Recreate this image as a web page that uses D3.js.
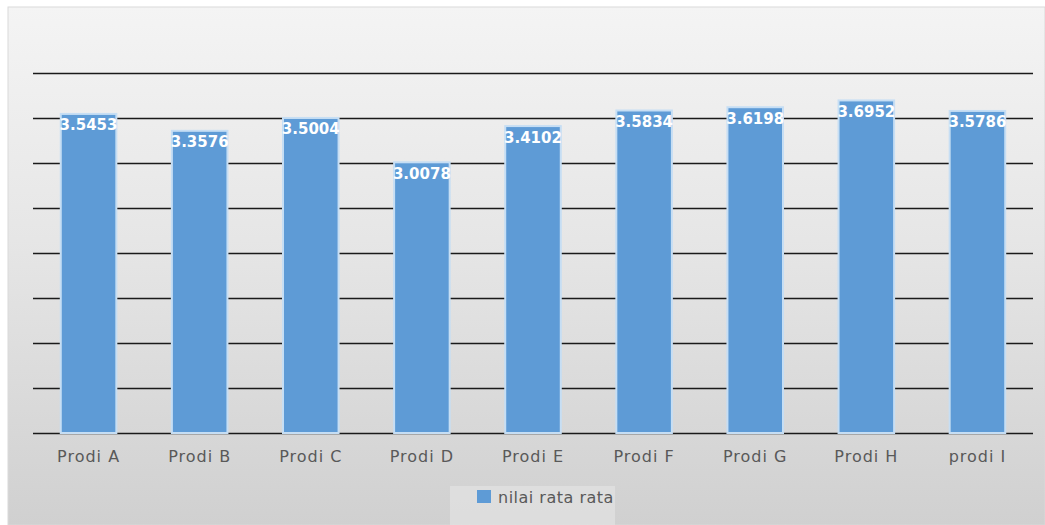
<!DOCTYPE html>
<html>
<head>
<meta charset="utf-8">
<script src="https://cdn.jsdelivr.net/npm/d3@7"></script>
<style>
  html, body { margin: 0; padding: 0; background: #ffffff; }
  svg { display: block; }
</style>
</head>
<body>
<svg id="chart" width="1045" height="525"></svg>
<script>
const categories = ["Prodi A", "Prodi B", "Prodi C", "Prodi D", "Prodi E", "Prodi F", "Prodi G", "Prodi H", "prodi I"];
const values = [3.5453, 3.3576, 3.5004, 3.0078, 3.4102, 3.5834, 3.6198, 3.6952, 3.5786];
const valueLabels = ["3.5453", "3.3576", "3.5004", "3.0078", "3.4102", "3.5834", "3.6198", "3.6952", "3.5786"];
const yTicks = [0, 0.5, 1, 1.5, 2, 2.5, 3, 3.5, 4];
const seriesName = "nilai rata rata";

const svg = d3.select("#chart");
const W = 1045, H = 525;

// background gradient
const defs = svg.append("defs");
const grad = defs.append("linearGradient").attr("id", "bg").attr("x1", 0).attr("y1", 0).attr("x2", 0).attr("y2", 1);
grad.append("stop").attr("offset", "0%").attr("stop-color", "#f4f4f4");
grad.append("stop").attr("offset", "45%").attr("stop-color", "#e6e6e6");
grad.append("stop").attr("offset", "100%").attr("stop-color", "#d0d0d0");

svg.append("rect").attr("x", 8).attr("y", 7).attr("width", W - 8).attr("height", H - 7)
  .attr("fill", "url(#bg)").attr("stroke", "#d9d9d9").attr("stroke-width", 1);

const x = d3.scaleBand().domain(categories).range([33, 1033]).paddingInner(0.5).paddingOuter(0.25);
const y = d3.scaleLinear().domain([0, 4]).range([433, 73]);

// gridlines
const yAxis = d3.axisLeft(y).tickValues(yTicks).tickSize(-1000).tickFormat("");
const gy = svg.append("g").attr("transform", "translate(33,0)").call(yAxis);
gy.select(".domain").remove();
gy.selectAll(".tick line").attr("stroke", "#1a1a1a").attr("stroke-width", 1.6);

// bars
svg.append("g").selectAll("rect").data(values).join("rect")
  .attr("x", (d, i) => x(categories[i]))
  .attr("y", d => y(d))
  .attr("width", x.bandwidth())
  .attr("height", d => y(0) - y(d))
  .attr("fill", "#5e9bd6")
  .attr("stroke", "#c6def4")
  .attr("stroke-width", 2);

// value labels
svg.append("g").selectAll("text").data(values).join("text")
  .attr("x", (d, i) => x(categories[i]) + x.bandwidth() / 2)
  .attr("y", d => y(d) + 16.5)
  .attr("text-anchor", "middle")
  .attr("font-family", "DejaVu Sans")
  .attr("font-weight", "bold")
  .attr("font-size", 15)
  .attr("fill", "#ffffff")
  .text((d, i) => valueLabels[i]);

// x axis labels
const xAxis = d3.axisBottom(x).tickSize(0).tickPadding(0);
const gx = svg.append("g").attr("transform", "translate(0,433)").call(xAxis);
gx.select(".domain").remove();
gx.selectAll(".tick text")
  .attr("y", 29)
  .attr("dy", 0)
  .attr("font-family", "DejaVu Sans")
  .attr("font-size", 16)
  .attr("letter-spacing", 1)
  .attr("fill", "#595959");

// legend
svg.append("rect").attr("x", 450).attr("y", 486).attr("width", 165).attr("height", 39).attr("fill", "#e2e2e2").attr("opacity", 0.7);
svg.append("rect").attr("x", 477).attr("y", 490).attr("width", 14).attr("height", 13).attr("fill", "#5e9bd6");
svg.append("text").attr("x", 498).attr("y", 503)
  .attr("font-family", "DejaVu Sans").attr("font-size", 16).attr("letter-spacing", 0.5)
  .attr("fill", "#595959").text(seriesName);
</script>
</body>
</html>
